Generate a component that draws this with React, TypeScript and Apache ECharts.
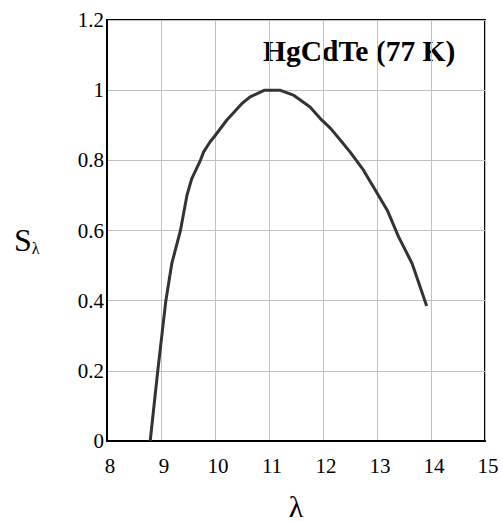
import React, { useEffect, useRef } from "react";
import * as echarts from "echarts";

const wavelength = [8.8, 8.94, 9.09, 9.2, 9.36, 9.48, 9.57, 9.73, 9.79, 9.91, 10.0, 10.22, 10.5, 10.65, 10.92, 11.2, 11.45, 11.76, 11.95, 12.14, 12.32, 12.5, 12.75, 12.97, 13.19, 13.4, 13.65, 13.92];
const response = [0, 0.2, 0.4, 0.506, 0.6, 0.7, 0.748, 0.8, 0.824, 0.853, 0.87, 0.915, 0.962, 0.981, 1.0, 1.0, 0.986, 0.952, 0.919, 0.891, 0.858, 0.824, 0.772, 0.715, 0.658, 0.582, 0.506, 0.385];
const titleText = "HgCdTe (77 K)";
const xLabel = "λ";

const FONT = "'Liberation Serif', 'Times New Roman', serif";

export default function App() {
  const ref = useRef<HTMLDivElement>(null);
  useEffect(() => {
    if (!ref.current) return;
    const chart = echarts.init(ref.current, null, { renderer: "svg" });
    chart.setOption({
      animation: false,
      backgroundColor: "#ffffff",
      grid: {
        left: 107,
        right: 18,
        top: 20,
        bottom: 80,
        show: true,
        borderColor: "#000",
        borderWidth: 2,
        containLabel: false,
        outerBoundsMode: "none",
      },
      xAxis: {
        type: "value",
        min: 8,
        max: 15,
        interval: 1,
        axisLine: { show: true, onZero: false, lineStyle: { color: "#000", width: 2 } },
        axisTick: { show: false },
        splitLine: { show: true, lineStyle: { color: "#c0c0c0", width: 1 } },
        axisLabel: { color: "#000", fontFamily: FONT, fontSize: 21, margin: 14, padding: [0, 0, 0, 6] },
        name: xLabel,
        nameLocation: "middle",
        nameGap: 50,
        nameTextStyle: { color: "#000", fontFamily: FONT, fontSize: 30 },
      },
      yAxis: {
        type: "value",
        min: 0,
        max: 1.2,
        interval: 0.2,
        axisLine: { show: true, lineStyle: { color: "#000", width: 2 } },
        axisTick: { show: false },
        splitLine: { show: true, lineStyle: { color: "#c0c0c0", width: 1 } },
        axisLabel: {
          color: "#000",
          fontFamily: FONT,
          fontSize: 21,
          margin: 3,
          padding: [6, 0, 0, 0],
          formatter: (v: number) => String(Math.round(v * 10) / 10),
        },
      },
      graphic: [
        {
          type: "text",
          left: 14,
          top: 224,
          style: {
            text: "{s|S}{sub|λ}",
            rich: {
              s: { fontFamily: FONT, fontSize: 32, fill: "#000" },
              sub: { fontFamily: FONT, fontSize: 16, fill: "#000", verticalAlign: "bottom", padding: [12, 0, 0, 0] },
            },
          },
        },
        {
          type: "text",
          left: 263,
          top: 36,
          style: {
            text: titleText,
            fontFamily: FONT,
            fontSize: 29.5,
            fontWeight: "bold",
            fill: "#000",
          },
        },
      ],
      series: [
        {
          type: "line",
          data: wavelength.map((x, i) => [x, response[i]]),
          showSymbol: false,
          lineStyle: { color: "#333333", width: 3 },
          z: 3,
        },
      ],
    });
    return () => chart.dispose();
  }, []);
  return <div ref={ref} style={{ width: 503, height: 521, position: "absolute", left: 0, top: 0 }} />;
}
